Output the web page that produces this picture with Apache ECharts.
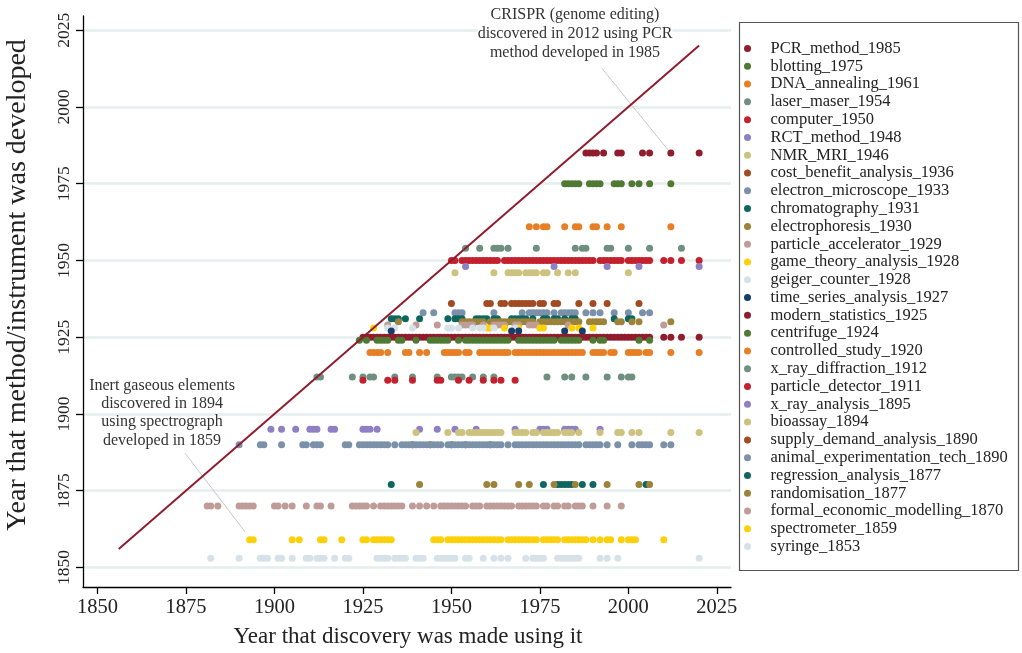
<!DOCTYPE html>
<html><head><meta charset="utf-8">
<script src="https://cdn.jsdelivr.net/npm/echarts@6/dist/echarts.min.js"></script>
<style>html,body{margin:0;padding:0;background:#fff}#c{width:1022px;height:653px}</style>
</head><body><div id="c"></div>
<script>
const seriesNames = ['PCR_method_1985','blotting_1975','DNA_annealing_1961','laser_maser_1954','computer_1950','RCT_method_1948','NMR_MRI_1946','cost_benefit_analysis_1936','electron_microscope_1933','chromatography_1931','electrophoresis_1930','particle_accelerator_1929','game_theory_analysis_1928','geiger_counter_1928','time_series_analysis_1927','modern_statistics_1925','centrifuge_1924','controlled_study_1920','x_ray_diffraction_1912','particle_detector_1911','x_ray_analysis_1895','bioassay_1894','supply_demand_analysis_1890','animal_experimentation_tech_1890','regression_analysis_1877','randomisation_1877','formal_economic_modelling_1870','spectrometer_1859','syringe_1853'];
const methodYears = [1985,1975,1961,1954,1950,1948,1946,1936,1933,1931,1930,1929,1928,1928,1927,1925,1924,1920,1912,1911,1895,1894,1890,1890,1877,1877,1870,1859,1853];
const colors = ['#8f1d2e','#4f7a33','#e77f27','#6f8f80','#c4212e','#8e80c4','#cdc27e','#a24b22','#7b91aa','#0f6660','#9b833a','#c09c98','#fdd008','#d6e2e8','#163d6b','#8f1d2e','#4f7a33','#e77f27','#6f8f80','#c4212e','#8e80c4','#cdc27e','#a24b22','#7b91aa','#0f6660','#9b833a','#c09c98','#fdd008','#d6e2e8'];

// discovery years (x) for each method/instrument
const PCR_method_1985 = [1988,1989,1990,1991,1993,1997,1998,2004,2006,2012,2020];
const blotting_1975 = [1982,1983,1984,1985,1986,1989,1990,1991,1992,1996,1997,1998,2001,2003,2006,2012];
const DNA_annealing_1961 = [1972,1974,1976,1977,1982,1985,1986,1990,1991,1994,1998,2012];
const laser_maser_1954 = [1954,1958,1962,1963,1964,1966,1974,1985,1987,1988,1994,1995,2000,2006,2015];
const computer_1950 = [1950,1951,1953,1954,1955,1956,1957,1958,1959,1960,1961,1962,1963,1965,1966,1967,1968,1969,1970,1971,1972,1973,1974,1975,1976,1977,1978,1979,1980,1981,1982,1983,1984,1985,1986,1987,1988,1989,1990,1992,1993,1994,1995,1996,1997,1998,2000,2001,2002,2003,2004,2005,2006,2010,2012,2015,2020];
const RCT_method_1948 = [1954,1979,1994,2003,2020];
const NMR_MRI_1946 = [1951,1962,1966,1967,1968,1969,1971,1972,1973,1974,1976,1977,1980,1983,1985,2000];
const cost_benefit_analysis_1936 = [1950,1960,1961,1964,1965,1967,1968,1969,1970,1971,1972,1973,1975,1976,1979,1980,1986,1990,1994,2003];
const electron_microscope_1933 = [1942,1945,1951,1952,1953,1962,1970,1972,1973,1974,1975,1976,1977,1979,1981,1982,1983,1984,1985,1988,1990,1992,1996,2000,2004,2006];
const chromatography_1931 = [1933,1934,1935,1937,1941,1949,1951,1952,1953,1957,1958,1959,1960,1962,1963,1967,1968,1969,1970,1971,1973,1976,1977,1979,1980,1982,1984,1985,1996,2000,2001];
const electrophoresis_1930 = [1935,1953,1954,1955,1956,1957,1958,1959,1961,1962,1963,1964,1965,1966,1967,1968,1969,1970,1971,1972,1973,1975,1976,1977,1978,1979,1980,1981,1982,1983,1984,1985,1986,1989,1990,1991,1992,1993,1997,1998,2001,2003,2012];
const particle_accelerator_1929 = [1932,1940,1946,1953,1954,1955,1956,1959,1962,1963,1964,1965,1968,1969,1972,1973,1974,1983,2010];
const game_theory_analysis_1928 = [1928,1960,1961,1965,1969,1975,1976,1984,1986,1990];
const geiger_counter_1928 = [1932,1934,1939,1949,1950,1952,1956,1958,1959,1962,1968];
const time_series_analysis_1927 = [1933,1967,1969,1982,1987];
const modern_statistics_1925 = [1925,1926,1927,1928,1929,1930,1931,1932,1933,1934,1935,1936,1937,1938,1939,1940,1941,1942,1943,1944,1945,1946,1947,1948,1949,1950,1951,1952,1953,1954,1955,1956,1957,1958,1959,1960,1961,1962,1963,1964,1965,1966,1967,1968,1969,1970,1971,1972,1973,1974,1975,1976,1977,1978,1979,1980,1981,1982,1983,1984,1985,1986,1987,1988,1989,1990,1991,1992,1993,1994,1995,1996,1997,1998,1999,2000,2001,2002,2003,2004,2005,2006,2010,2012,2015,2020];
const centrifuge_1924 = [1924,1926,1929,1930,1931,1932,1935,1936,1940,1944,1945,1946,1947,1948,1949,1952,1954,1955,1956,1957,1958,1959,1960,1961,1962,1963,1964,1965,1966,1969,1970,1971,1972,1973,1974,1975,1976,1977,1978,1979,1981,1982,1983,1984,1985,1986,1990,1992,1993,2003,2006];
const controlled_study_1920 = [1927,1928,1929,1930,1932,1937,1938,1941,1943,1948,1949,1950,1951,1952,1954,1955,1958,1959,1960,1961,1962,1963,1964,1965,1966,1968,1969,1970,1971,1972,1973,1974,1975,1976,1977,1978,1979,1980,1981,1982,1983,1984,1985,1986,1987,1990,1991,1992,1993,1995,1996,2000,2001,2002,2003,2005,2006,2012,2020];
const x_ray_diffraction_1912 = [1912,1913,1922,1925,1927,1928,1934,1939,1946,1950,1951,1952,1953,1956,1959,1962,1977,1982,1984,1988,1994,1998,2000,2001];
const particle_detector_1911 = [1925,1932,1934,1939,1946,1947,1952,1955,1959,1962,1964,1968];
const x_ray_analysis_1895 = [1899,1902,1906,1910,1911,1912,1916,1917,1925,1926,1927,1929,1941,1946,1951,1957,1968,1975,1976,1977,1982,1983,1984,1985,1992];
const bioassay_1894 = [1940,1949,1952,1953,1955,1956,1957,1958,1959,1960,1961,1962,1963,1964,1968,1969,1970,1971,1973,1974,1976,1977,1978,1979,1980,1982,1983,1984,1986,1992,1997,1998,2001,2003,2012,2020];
const supply_demand_analysis_1890 = [1939,1944,1950,1954,1961];
const animal_experimentation_tech_1890 = [1890,1896,1897,1902,1908,1909,1911,1912,1913,1920,1921,1924,1925,1926,1927,1928,1929,1930,1931,1932,1934,1936,1937,1938,1939,1940,1941,1942,1943,1944,1945,1946,1947,1949,1950,1951,1952,1953,1954,1955,1956,1957,1958,1959,1960,1961,1962,1963,1964,1966,1968,1969,1970,1971,1972,1973,1974,1975,1976,1977,1978,1979,1980,1981,1982,1983,1984,1985,1986,1988,1989,1990,1991,1992,1994,1997,2001,2003,2004,2005,2006,2010,2012];
const regression_analysis_1877 = [1933,1976,1980,1981,1982,1983,1984,1987,1990,2005];
const randomisation_1877 = [1941,1960,1962,1969,1972,1979,1985,1994,2003,2006];
const formal_economic_modelling_1870 = [1881,1882,1884,1890,1891,1892,1893,1894,1900,1901,1903,1905,1909,1912,1913,1916,1922,1923,1924,1925,1926,1928,1930,1931,1932,1933,1934,1935,1936,1939,1941,1943,1945,1947,1948,1949,1950,1951,1952,1953,1954,1956,1957,1958,1960,1961,1962,1963,1964,1965,1966,1967,1969,1970,1971,1972,1973,1974,1976,1977,1979,1980,1982,1983,1985,1986,1987,1990,1994,1998];
const spectrometer_1859 = [1893,1894,1905,1907,1913,1914,1919,1925,1926,1928,1929,1930,1931,1932,1933,1945,1946,1947,1949,1950,1951,1952,1953,1954,1955,1956,1957,1958,1959,1960,1961,1962,1963,1964,1966,1967,1968,1969,1970,1971,1972,1973,1974,1976,1977,1978,1979,1980,1982,1983,1984,1985,1986,1987,1988,1990,1992,1994,1995,1998,2000,2001,2002,2010];
const syringe_1853 = [1882,1890,1896,1897,1898,1901,1902,1905,1909,1910,1912,1913,1914,1917,1920,1921,1929,1930,1931,1932,1934,1935,1936,1937,1940,1941,1942,1946,1947,1948,1949,1950,1951,1954,1955,1959,1962,1964,1966,1971,1973,1974,1975,1976,1980,1981,1982,1983,1984,1985,1986,1992,1994,1997,2020];

const discoveryYears = [PCR_method_1985,blotting_1975,DNA_annealing_1961,laser_maser_1954,computer_1950,RCT_method_1948,NMR_MRI_1946,cost_benefit_analysis_1936,electron_microscope_1933,chromatography_1931,electrophoresis_1930,particle_accelerator_1929,game_theory_analysis_1928,geiger_counter_1928,time_series_analysis_1927,modern_statistics_1925,centrifuge_1924,controlled_study_1920,x_ray_diffraction_1912,particle_detector_1911,x_ray_analysis_1895,bioassay_1894,supply_demand_analysis_1890,animal_experimentation_tech_1890,regression_analysis_1877,randomisation_1877,formal_economic_modelling_1870,spectrometer_1859,syringe_1853];

const xTicks = [1850,1875,1900,1925,1950,1975,2000,2025];
const yTicks = [1850,1875,1900,1925,1950,1975,2000,2025];
const diagonalLine = [[1856,1856],[2020,2020]];
const crisprPointer = [[1992.5,2012.6],[2011.7,1985.3]];
const inertPointer = [[1874.7,1887.3],[1891.7,1861.6]];

const FONT = 'Liberation Serif';
const chart = echarts.init(document.getElementById('c'), null, {renderer:'canvas'});

const series = seriesNames.map((name,i)=>({
  name, type:'scatter', symbol:'circle', symbolSize:7,
  itemStyle:{color:colors[i], opacity:1},
  data: discoveryYears[i].map(x=>[x, methodYears[i]]),
  z:2, animation:false
}));
series.push({type:'line', data:diagonalLine, symbol:'none', lineStyle:{color:'#8f1d2e', width:2}, z:5, silent:true, animation:false});
series.push({type:'line', data:crisprPointer, symbol:'none', lineStyle:{color:'#b8b8b8', width:0.8}, z:1, silent:true, animation:false});
series.push({type:'line', data:inertPointer, symbol:'none', lineStyle:{color:'#b8b8b8', width:0.8}, z:1, silent:true, animation:false});

const axisLine = {show:true, onZero:false, lineStyle:{color:'#000', width:1.3}};
const tickStyle = {color:'#000', width:1.3};
const plain = v => String(Math.round(v));

chart.setOption({
  backgroundColor:'#fff',
  animation:false,
  grid:{left:83, right:291, top:16, bottom:66, containLabel:false},
  xAxis:{type:'value', min:1845.9, max:2029, axisLine,
    axisTick:{show:true, length:7, lineStyle:tickStyle, customValues:xTicks},
    axisLabel:{customValues:xTicks, formatter:plain, color:'#222', fontFamily:FONT, fontSize:20.5, margin:10},
    splitLine:{show:false}},
  yAxis:{type:'value', min:1843.65, max:2029.6, axisLine,
    axisTick:{show:true, length:7, lineStyle:tickStyle, customValues:yTicks},
    axisLabel:{customValues:yTicks, formatter:plain, rotate:90, color:'#222', fontFamily:FONT, fontSize:17.5, margin:10},
    splitLine:{show:true, lineStyle:{color:'#e6eeed', width:2.5}}},
  legend:{
    orient:'vertical', left:739, top:35,
    itemWidth:24, itemHeight:7, itemGap:0.79,
    icon:'circle',
    textStyle:{fontFamily:FONT, fontSize:16.5, color:'#222', lineHeight:16, padding:[0,0,0,6]},
    data: seriesNames, selectedMode:false
  },
  graphic:[
    {type:'rect', shape:{x:739.5, y:22.5, width:279, height:548}, style:{fill:'none', stroke:'#555', lineWidth:1.2}, z:0},
    {type:'text', x:18, y:285, rotation:Math.PI/2, style:{text:'Year that method/instrument was developed', fontFamily:FONT, fontSize:28, fill:'#222', align:'center', verticalAlign:'middle'}},
    {type:'text', x:408, y:637, style:{text:'Year that discovery was made using it', fontFamily:FONT, fontSize:23, fill:'#222', align:'center', verticalAlign:'middle'}},
    {type:'text', x:575, y:34, z:10, style:{text:'CRISPR (genome editing)\ndiscovered in 2012 using PCR\nmethod developed in 1985', fontFamily:FONT, fontSize:16, lineHeight:19, fill:'#333', align:'center', verticalAlign:'middle', backgroundColor:'#fff'}},
    {type:'text', x:162, y:413, z:10, style:{text:'Inert gaseous elements\ndiscovered in 1894\nusing spectrograph\ndeveloped in 1859', fontFamily:FONT, fontSize:16, lineHeight:18.2, fill:'#333', align:'center', verticalAlign:'middle'}}
  ],
  series
});
</script></body></html>
